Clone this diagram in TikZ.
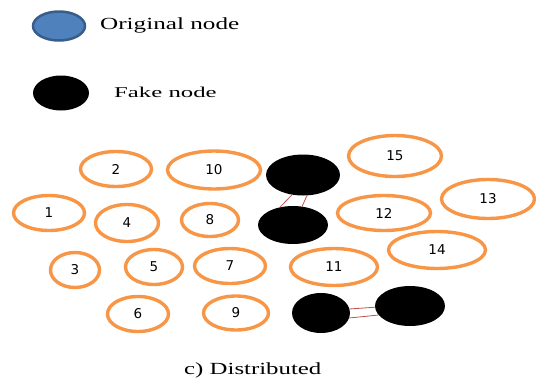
\documentclass[tikz,border=0pt]{standalone}
\usepackage{fontspec}
\setmainfont{Liberation Serif}
\newfontfamily\numfont{DejaVu Sans}
\usetikzlibrary{shapes.geometric}
\definecolor{ringorange}{HTML}{F79646}
\definecolor{origfill}{HTML}{4F81BD}
\definecolor{origline}{HTML}{385D8A}
\definecolor{linkred}{HTML}{C0504D}
\tikzset{
  peer/.style={ellipse, draw=ringorange, line width=3.4pt, fill=white, inner sep=0pt,
    minimum width=#1, font=\numfont\fontsize{13.5}{14}\selectfont},
  peerh/.style={minimum height=#1},
  fake/.style={ellipse, fill=black, inner sep=0pt},
  orig/.style={ellipse, fill=origfill, draw=origline, line width=2.5pt, inner sep=0pt},
  link/.style={draw=linkred, line width=0.8pt},
  lbl/.style={inner sep=0pt, anchor=base west}
}
\newcommand\wide[2]{\scalebox{#1}[1]{#2}}
\begin{document}
\begin{tikzpicture}[x=1pt, y=-1pt]
\useasboundingbox (0,0) rectangle (536,378);

% legend
\node[orig, minimum width=52pt, minimum height=29pt] (lorig) at (59,26) {};
\node[lbl, font=\fontsize{17}{18}\selectfont] (torig) at (100,29) {\wide{1.48}{Original node}};
\node[fake, minimum width=56pt, minimum height=35pt] (lfake) at (61,93) {};
\node[lbl, font=\fontsize{15}{16}\selectfont] (tfake) at (114,97) {\wide{1.65}{Fake node}};

% original nodes
\node[peer=71pt, peerh=35pt] (n1)  at (49,213)  {1};
\node[peer=71pt, peerh=35pt] (n2)  at (116,169) {2};
\node[peer=49pt, peerh=35pt] (n3)  at (75,270)  {3};
\node[peer=63pt, peerh=37pt] (n4)  at (127,223) {4};
\node[peer=57pt, peerh=35pt] (n5)  at (154,267) {5};
\node[peer=61pt, peerh=35pt] (n6)  at (138,314) {6};
\node[peer=71pt, peerh=35pt] (n7)  at (230,266) {7};
\node[peer=57pt, peerh=33pt] (n8)  at (210,220) {8};
\node[peer=65pt, peerh=34pt] (n9)  at (236,313) {9};
\node[peer=93pt, peerh=38pt] (n10) at (214,170) {10};
\node[peer=87pt, peerh=37pt] (n11) at (334,267) {11};
\node[peer=93pt, peerh=35pt] (n12) at (384,213) {12};
\node[peer=93pt, peerh=39pt] (n13) at (488,199) {13};
\node[peer=97pt, peerh=37pt] (n14) at (437,250) {14};
\node[peer=93pt, peerh=41pt] (n15) at (395,156) {15};

% fake nodes
\node[fake, minimum width=74pt, minimum height=41pt] (f1) at (303,175) {};
\node[fake, minimum width=70pt, minimum height=38pt] (f2) at (293,225) {};
\node[fake, minimum width=58pt, minimum height=40pt] (f3) at (321,313) {};
\node[fake, minimum width=70pt, minimum height=40pt] (f4) at (410,306) {};

% links between fake nodes
\draw[link] (f1.241) -- (f2.126);
\draw[link] (f1.281) -- (f2.64);
\draw[link] (f3.8) -- (f4.182);
\draw[link] (f3.-10) -- (f4.196);

% caption
\node[lbl, font=\fontsize{17}{18}\selectfont] (cap) at (184,374) {\wide{1.46}{c) Distributed}};
\end{tikzpicture}
\end{document}
